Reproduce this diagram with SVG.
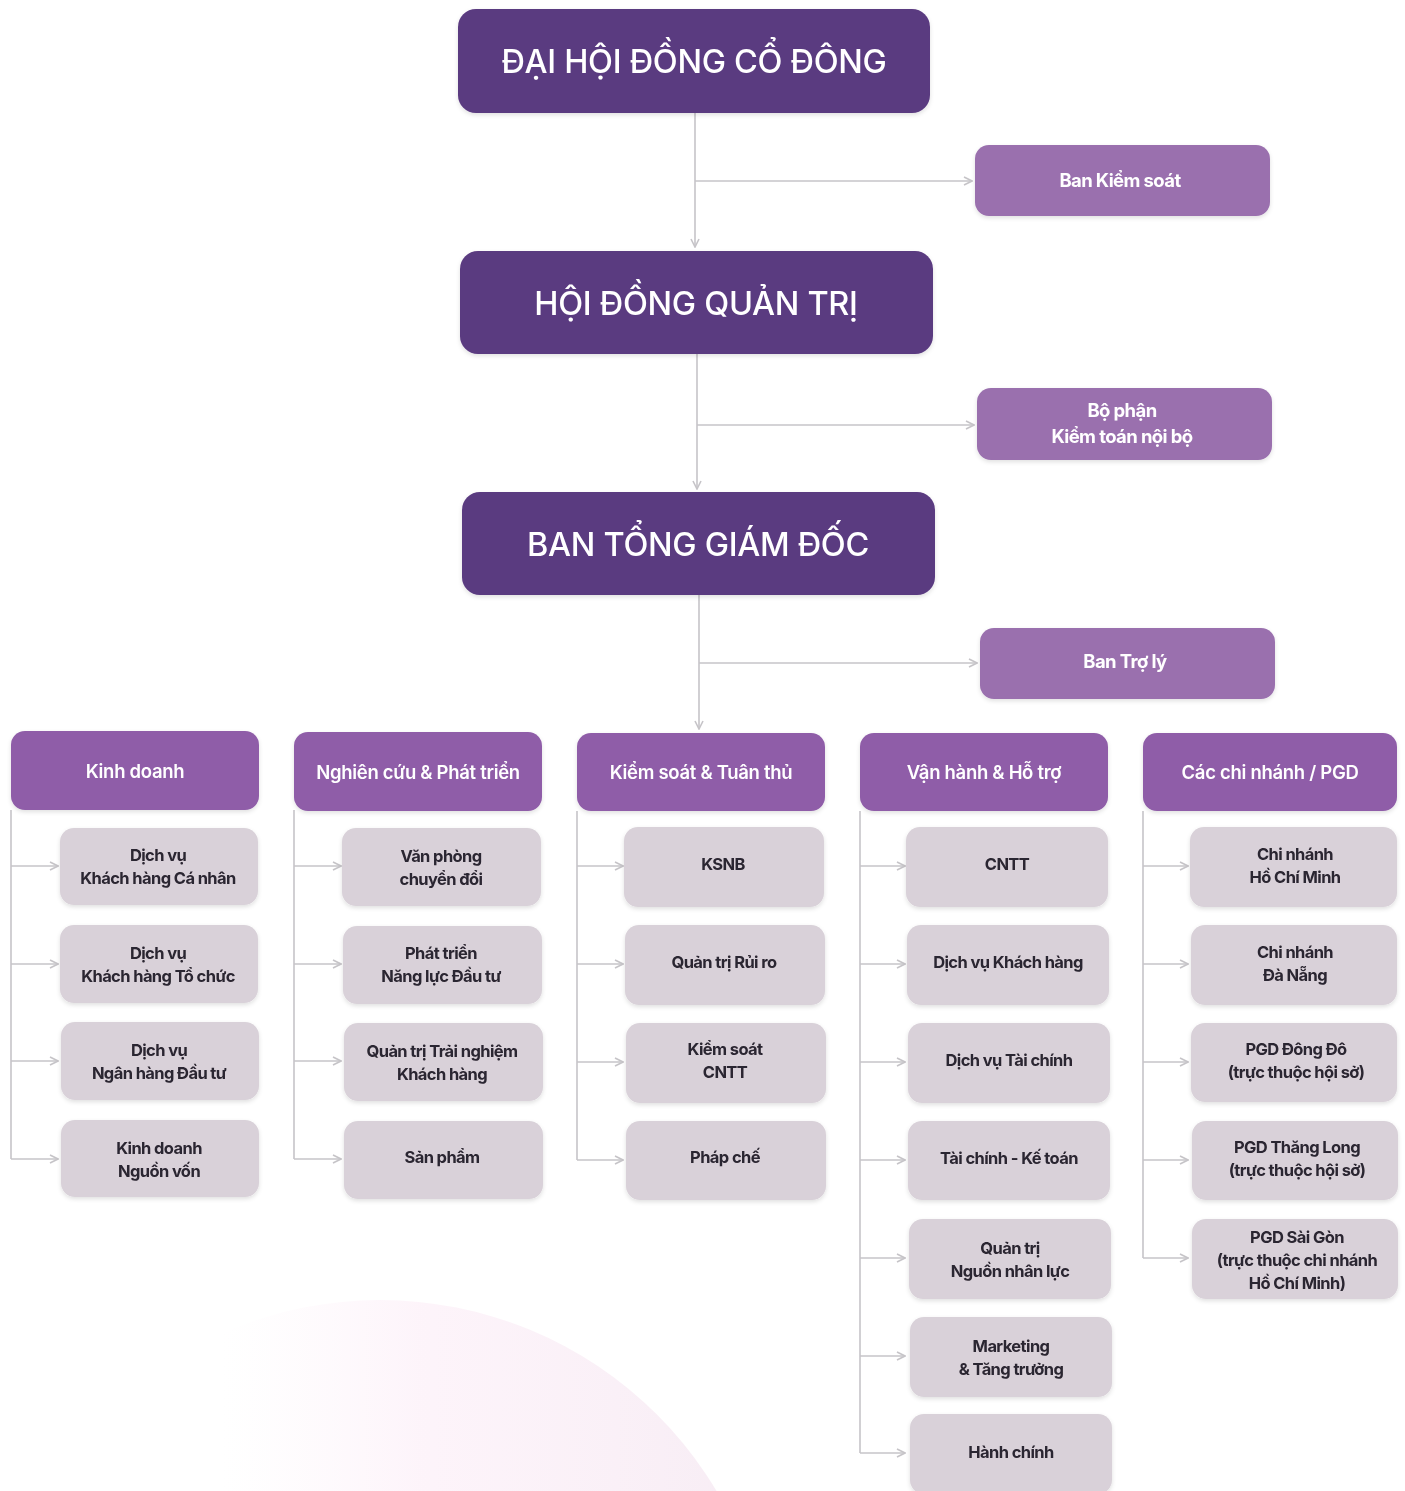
<svg xmlns="http://www.w3.org/2000/svg" width="1405" height="1491" viewBox="0 0 1405 1491">
<defs>
<style>
.top{fill:#5a3a80}
.side{fill:#9a70ae}
.head{fill:#8f5da8}
.child{fill:#d9d1d9}
.tt{font-family:Inter,"Noto Sans",sans-serif;font-weight:500;font-size:32.5px;fill:#ffffff;text-anchor:middle;letter-spacing:-0.3px}
.ts{font-family:Inter,"Noto Sans",sans-serif;font-weight:700;font-size:18.5px;fill:#ffffff;text-anchor:middle;letter-spacing:-0.6px}
.th{font-family:Inter,"Noto Sans",sans-serif;font-weight:600;font-size:18.5px;fill:#ffffff;text-anchor:middle;letter-spacing:-0.3px}
.tc{font-family:Inter,"Noto Sans",sans-serif;font-weight:700;font-size:16.5px;fill:#2b2530;text-anchor:middle;letter-spacing:-0.6px}
.ln{fill:none;stroke:#c6c4c8;stroke-width:1.6}
</style>
<marker id="arr" viewBox="0 0 10 10" refX="9" refY="5" markerWidth="10" markerHeight="10" markerUnits="userSpaceOnUse" orient="auto">
<path d="M1,1 L9,5 L1,9" fill="none" stroke="#c6c4c8" stroke-width="1.6"/>
</marker>
<filter id="sh" x="-10%" y="-20%" width="120%" height="140%">
<feDropShadow dx="0" dy="2" stdDeviation="2" flood-color="#000" flood-opacity="0.12"/>
</filter>
<linearGradient id="bg" x1="0" y1="0" x2="1" y2="0">
<stop offset="0" stop-color="#fdf3fa" stop-opacity="0"/>
<stop offset="0.3" stop-color="#fdf3fa" stop-opacity="0"/>
<stop offset="0.55" stop-color="#fcedf7" stop-opacity="0.6"/>
<stop offset="1" stop-color="#f5e9f2" stop-opacity="0.85"/>
</linearGradient>
</defs>
<rect width="1405" height="1491" fill="#ffffff"/>
<circle cx="380" cy="1692" r="392" fill="url(#bg)"/>

<g id="connectors">
<line class="ln" x1="695" y1="113" x2="695" y2="247" marker-end="url(#arr)"/>
<line class="ln" x1="695" y1="181" x2="972" y2="181" marker-end="url(#arr)"/>
<line class="ln" x1="697" y1="354" x2="697" y2="489" marker-end="url(#arr)"/>
<line class="ln" x1="697" y1="425" x2="974" y2="425" marker-end="url(#arr)"/>
<line class="ln" x1="699" y1="595" x2="699" y2="729" marker-end="url(#arr)"/>
<line class="ln" x1="699" y1="663" x2="977" y2="663" marker-end="url(#arr)"/>

<path class="ln" d="M11,810 V1159"/>
<line class="ln" x1="11" y1="866" x2="58" y2="866" marker-end="url(#arr)"/>
<line class="ln" x1="11" y1="964" x2="58" y2="964" marker-end="url(#arr)"/>
<line class="ln" x1="11" y1="1061" x2="58" y2="1061" marker-end="url(#arr)"/>
<line class="ln" x1="11" y1="1159" x2="58" y2="1159" marker-end="url(#arr)"/>

<path class="ln" d="M294,810 V1159"/>
<line class="ln" x1="294" y1="866" x2="341" y2="866" marker-end="url(#arr)"/>
<line class="ln" x1="294" y1="964" x2="341" y2="964" marker-end="url(#arr)"/>
<line class="ln" x1="294" y1="1061" x2="341" y2="1061" marker-end="url(#arr)"/>
<line class="ln" x1="294" y1="1159" x2="341" y2="1159" marker-end="url(#arr)"/>

<path class="ln" d="M577,811 V1160"/>
<line class="ln" x1="577" y1="866" x2="623" y2="866" marker-end="url(#arr)"/>
<line class="ln" x1="577" y1="964" x2="623" y2="964" marker-end="url(#arr)"/>
<line class="ln" x1="577" y1="1062" x2="623" y2="1062" marker-end="url(#arr)"/>
<line class="ln" x1="577" y1="1160" x2="623" y2="1160" marker-end="url(#arr)"/>

<path class="ln" d="M860,811 V1453"/>
<line class="ln" x1="860" y1="866" x2="905" y2="866" marker-end="url(#arr)"/>
<line class="ln" x1="860" y1="964" x2="905" y2="964" marker-end="url(#arr)"/>
<line class="ln" x1="860" y1="1062" x2="905" y2="1062" marker-end="url(#arr)"/>
<line class="ln" x1="860" y1="1160" x2="905" y2="1160" marker-end="url(#arr)"/>
<line class="ln" x1="860" y1="1258" x2="905" y2="1258" marker-end="url(#arr)"/>
<line class="ln" x1="860" y1="1356" x2="905" y2="1356" marker-end="url(#arr)"/>
<line class="ln" x1="860" y1="1453" x2="905" y2="1453" marker-end="url(#arr)"/>

<path class="ln" d="M1143,811 V1258"/>
<line class="ln" x1="1143" y1="866" x2="1188" y2="866" marker-end="url(#arr)"/>
<line class="ln" x1="1143" y1="964" x2="1188" y2="964" marker-end="url(#arr)"/>
<line class="ln" x1="1143" y1="1062" x2="1188" y2="1062" marker-end="url(#arr)"/>
<line class="ln" x1="1143" y1="1160" x2="1188" y2="1160" marker-end="url(#arr)"/>
<line class="ln" x1="1143" y1="1258" x2="1188" y2="1258" marker-end="url(#arr)"/>
</g>

<g id="dhdcd" filter="url(#sh)"><rect class="top" x="458" y="9" width="472" height="104" rx="18"/><text class="tt" x="694" y="73">ĐẠI HỘI ĐỒNG CỔ ĐÔNG</text></g>
<g id="hdqt" filter="url(#sh)"><rect class="top" x="460" y="251" width="473" height="103" rx="18"/><text class="tt" x="696" y="315">HỘI ĐỒNG QUẢN TRỊ</text></g>
<g id="btgd" filter="url(#sh)"><rect class="top" x="462" y="492" width="473" height="103" rx="18"/><text class="tt" x="698" y="556">BAN TỔNG GIÁM ĐỐC</text></g>

<g id="bks" filter="url(#sh)"><rect class="side" x="975" y="145" width="295" height="71" rx="14"/><text class="ts" x="1120" y="187">Ban Kiểm soát</text></g>
<g id="ktnb" filter="url(#sh)"><rect class="side" x="977" y="388" width="295" height="72" rx="14"/><text class="ts" x="1122" y="417">Bộ phận</text><text class="ts" x="1122" y="443">Kiểm toán nội bộ</text></g>
<g id="btl" filter="url(#sh)"><rect class="side" x="980" y="628" width="295" height="71" rx="14"/><text class="ts" x="1125" y="668">Ban Trợ lý</text></g>

<g id="h1" filter="url(#sh)"><rect class="head" x="11" y="731" width="248" height="79" rx="14"/><text class="th" x="135" y="778">Kinh doanh</text></g>
<g id="h2" filter="url(#sh)"><rect class="head" x="294" y="732" width="248" height="79" rx="14"/><text class="th" x="418" y="779">Nghiên cứu &amp; Phát triển</text></g>
<g id="h3" filter="url(#sh)"><rect class="head" x="577" y="733" width="248" height="78" rx="14"/><text class="th" x="701" y="779">Kiểm soát &amp; Tuân thủ</text></g>
<g id="h4" filter="url(#sh)"><rect class="head" x="860" y="733" width="248" height="78" rx="14"/><text class="th" x="984" y="779">Vận hành &amp; Hỗ trợ</text></g>
<g id="h5" filter="url(#sh)"><rect class="head" x="1143" y="733" width="254" height="78" rx="14"/><text class="th" x="1270" y="779">Các chi nhánh / PGD</text></g>

<g id="c1a" filter="url(#sh)"><rect class="child" x="60" y="828" width="198" height="77" rx="14"/><text class="tc" x="158" y="861">Dịch vụ</text><text class="tc" x="158" y="884">Khách hàng Cá nhân</text></g>
<g id="c1b" filter="url(#sh)"><rect class="child" x="60" y="925" width="198" height="78" rx="14"/><text class="tc" x="158" y="959">Dịch vụ</text><text class="tc" x="158" y="982">Khách hàng Tổ chức</text></g>
<g id="c1c" filter="url(#sh)"><rect class="child" x="61" y="1022" width="198" height="78" rx="14"/><text class="tc" x="159" y="1056">Dịch vụ</text><text class="tc" x="159" y="1079">Ngân hàng Đầu tư</text></g>
<g id="c1d" filter="url(#sh)"><rect class="child" x="61" y="1120" width="198" height="77" rx="14"/><text class="tc" x="159" y="1154">Kinh doanh</text><text class="tc" x="159" y="1177">Nguồn vốn</text></g>

<g id="c2a" filter="url(#sh)"><rect class="child" x="342" y="828" width="199" height="78" rx="14"/><text class="tc" x="441" y="862">Văn phòng</text><text class="tc" x="441" y="885">chuyển đổi</text></g>
<g id="c2b" filter="url(#sh)"><rect class="child" x="343" y="926" width="199" height="78" rx="14"/><text class="tc" x="441" y="959">Phát triển</text><text class="tc" x="441" y="982">Năng lực Đầu tư</text></g>
<g id="c2c" filter="url(#sh)"><rect class="child" x="344" y="1023" width="199" height="78" rx="14"/><text class="tc" x="442" y="1057">Quản trị Trải nghiệm</text><text class="tc" x="442" y="1080">Khách hàng</text></g>
<g id="c2d" filter="url(#sh)"><rect class="child" x="344" y="1121" width="199" height="78" rx="14"/><text class="tc" x="442" y="1163">Sản phẩm</text></g>

<g id="c3a" filter="url(#sh)"><rect class="child" x="624" y="827" width="200" height="80" rx="14"/><text class="tc" x="723" y="870">KSNB</text></g>
<g id="c3b" filter="url(#sh)"><rect class="child" x="625" y="925" width="200" height="80" rx="14"/><text class="tc" x="724" y="968">Quản trị Rủi ro</text></g>
<g id="c3c" filter="url(#sh)"><rect class="child" x="626" y="1023" width="200" height="80" rx="14"/><text class="tc" x="725" y="1055">Kiểm soát</text><text class="tc" x="725" y="1078">CNTT</text></g>
<g id="c3d" filter="url(#sh)"><rect class="child" x="626" y="1121" width="200" height="79" rx="14"/><text class="tc" x="725" y="1163">Pháp chế</text></g>

<g id="c4a" filter="url(#sh)"><rect class="child" x="906" y="827" width="202" height="80" rx="14"/><text class="tc" x="1007" y="870">CNTT</text></g>
<g id="c4b" filter="url(#sh)"><rect class="child" x="907" y="925" width="202" height="80" rx="14"/><text class="tc" x="1008" y="968">Dịch vụ Khách hàng</text></g>
<g id="c4c" filter="url(#sh)"><rect class="child" x="908" y="1023" width="202" height="80" rx="14"/><text class="tc" x="1009" y="1066">Dịch vụ Tài chính</text></g>
<g id="c4d" filter="url(#sh)"><rect class="child" x="908" y="1121" width="202" height="79" rx="14"/><text class="tc" x="1009" y="1164">Tài chính - Kế toán</text></g>
<g id="c4e" filter="url(#sh)"><rect class="child" x="909" y="1219" width="202" height="80" rx="14"/><text class="tc" x="1010" y="1254">Quản trị</text><text class="tc" x="1010" y="1277">Nguồn nhân lực</text></g>
<g id="c4f" filter="url(#sh)"><rect class="child" x="910" y="1317" width="202" height="80" rx="14"/><text class="tc" x="1011" y="1352">Marketing</text><text class="tc" x="1011" y="1375">&amp; Tăng trưởng</text></g>
<g id="c4g" filter="url(#sh)"><rect class="child" x="910" y="1414" width="202" height="80" rx="14"/><text class="tc" x="1011" y="1458">Hành chính</text></g>

<g id="c5a" filter="url(#sh)"><rect class="child" x="1190" y="827" width="207" height="80" rx="14"/><text class="tc" x="1295" y="860">Chi nhánh</text><text class="tc" x="1295" y="883">Hồ Chí Minh</text></g>
<g id="c5b" filter="url(#sh)"><rect class="child" x="1191" y="925" width="206" height="80" rx="14"/><text class="tc" x="1295" y="958">Chi nhánh</text><text class="tc" x="1295" y="981">Đà Nẵng</text></g>
<g id="c5c" filter="url(#sh)"><rect class="child" x="1191" y="1023" width="206" height="79" rx="14"/><text class="tc" x="1296" y="1055">PGD Đông Đô</text><text class="tc" x="1296" y="1078">(trực thuộc hội sở)</text></g>
<g id="c5d" filter="url(#sh)"><rect class="child" x="1192" y="1121" width="206" height="79" rx="14"/><text class="tc" x="1297" y="1153">PGD Thăng Long</text><text class="tc" x="1297" y="1176">(trực thuộc hội sở)</text></g>
<g id="c5e" filter="url(#sh)"><rect class="child" x="1192" y="1219" width="206" height="80" rx="14"/><text class="tc" x="1297" y="1243">PGD Sài Gòn</text><text class="tc" x="1297" y="1266">(trực thuộc chi nhánh</text><text class="tc" x="1297" y="1289">Hồ Chí Minh)</text></g>
</svg>
